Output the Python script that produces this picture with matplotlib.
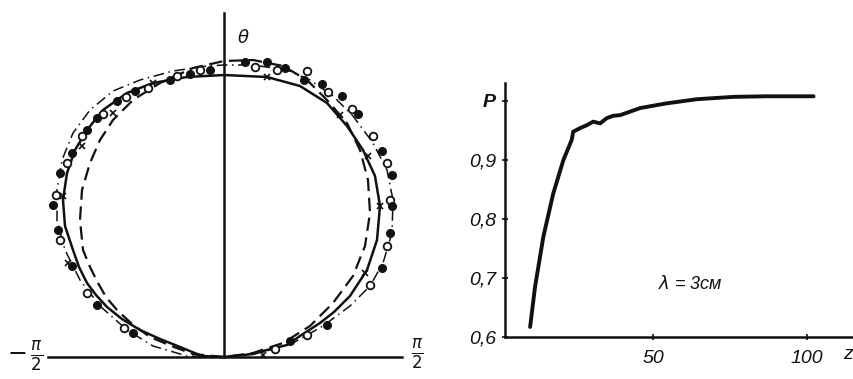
import matplotlib
matplotlib.use("Agg")
import matplotlib.pyplot as plt

# --- 1. Data ---
# Left panel: radiation pattern traces, (x, y) relative to the axes crossing
solid_x = [0, -22, -44, -64, -84, -102, -117, -128, -137, -145, -151, -159, -161, -157, -149,
           -137, -121, -97, -71, -37, 0, 43, 76, 103, 123, 139, 151, 156, 153, 143, 126, 110,
           96, 76, 63, 43, 29, 0]
solid_y = [0, 1, 10, 18, 27, 38, 50, 62, 74, 90, 107, 131, 157, 184, 207,
           227, 247, 264, 274, 280, 282, 280, 271, 254, 231, 207, 181, 151, 117, 87, 61, 45,
           34, 21, 12, 7, 3, 0]

dashed_x = [0, -31, -50, -74, -92, -107, -118, -126, -134, -141, -144, -142, -134, -124, -111,
            -91, -64, -31, 0, 29, 59, 83, 103, 123, 136, 144, 146, 141, 129, 109, 86, 59, 29, 0]
dashed_y = [0, 3, 10, 20, 33, 47, 60, 74, 90, 107, 137, 167, 194, 217, 237,
            257, 274, 289, 296, 297, 291, 277, 257, 234, 207, 177, 144, 111, 81, 54, 31, 14, 4, 0]

dashdot_x = [0, -37, -71, -97, -124, -144, -159, -167, -167, -162, -151, -134, -111, -84, -51, -17,
             0, 29, 63, 86, 109, 129, 149, 163, 169, 168, 159, 146, 126, 99, 69, 36, 0]
dashdot_y = [0, 1, 11, 27, 51, 77, 107, 137, 167, 197, 224, 247, 266, 277, 286, 291,
             292, 292, 287, 277, 261, 241, 214, 187, 157, 124, 94, 71, 51, 31, 14, 4, 0]

open_x = [-24, -47, -76, -98, -121, -142, -157, -168, -164, -137, -100,
          31, 53, 83, 104, 128, 149, 163, 166, 163, 146, 83, 51]
open_y = [287, 281, 269, 260, 243, 221, 194, 162, 117, 64, 29,
          290, 287, 286, 265, 248, 221, 194, 157, 111, 72, 22, 8]

filled_x = [-14, -34, -54, -89, -107, -127, -137, -152, -164, -171, -166, -152, -127, -91,
            21, 43, 61, 80, 98, 118, 134, 158, 168, 168, 166, 158, 103, 66]
filled_y = [287, 283, 277, 266, 256, 239, 227, 204, 184, 152, 127, 91, 52, 24,
            295, 295, 289, 277, 273, 261, 243, 206, 182, 151, 124, 89, 32, 16]

cross_x = [-71, -111, -142, -161, -156, 43, 116, 144, 156, 141, 39]
cross_y = [274, 244, 211, 161, 94, 280, 242, 201, 151, 84, 2]

# Right panel: P versus z
z = [10.1, 11.7, 14.4, 17.6, 20.9, 23.6, 24.1, 26.3, 28.5, 30.6, 32.8, 35.0, 37.1,
     39.3, 41.5, 45.8, 54.4, 64.2, 76.1, 86.9, 102.1]
P = [0.617, 0.685, 0.770, 0.843, 0.900, 0.934, 0.948, 0.954, 0.959, 0.965, 0.962, 0.971, 0.975,
     0.976, 0.980, 0.988, 0.996, 1.003, 1.007, 1.008, 1.008]

y_ticks = [0.6, 0.7, 0.8, 0.9, 1.0]
y_labels = ["0,6", "0,7", "0,8", "0,9", "P"]
x_ticks = [50, 100]
x_labels = ["50", "100"]

# --- 2. Figure ---
plt.rcParams["font.family"] = ["Liberation Sans", "DejaVu Sans"]
plt.rcParams["mathtext.fontset"] = "dejavusans"
W, H = 854, 379
fig = plt.figure(figsize=(W / 100, H / 100), dpi=100)
ink = "#111111"

# --- 3. Left panel ---
ax1 = fig.add_axes([0, 0, 430 / W, 1])
ax1.set_xlim(-224, 206)
ax1.set_ylim(-22, 357)
ax1.axis("off")

ax1.plot([-176, 178], [0, 0], color=ink, lw=1.8)
ax1.plot([0, 0], [0, 344], color=ink, lw=1.8)

ax1.plot(solid_x, solid_y, color=ink, lw=1.8, solid_joinstyle="round")
ax1.plot(dashed_x, dashed_y, color=ink, lw=1.6, linestyle=(0, (6, 3)))
ax1.plot(dashdot_x, dashdot_y, color=ink, lw=1.1, linestyle=(0, (7, 3, 1, 3)))
ax1.plot(open_x, open_y, "o", ms=5.5, mfc="white", mec=ink, mew=1.3, linestyle="none")
ax1.plot(filled_x, filled_y, "o", ms=5.5, mfc=ink, mec=ink, linestyle="none")
ax1.plot(cross_x, cross_y, "x", ms=4, mec=ink, mew=1.2, linestyle="none")

ax1.text(19, 319, r"$\theta$", fontsize=13, color=ink, ha="center", va="center")
ax1.text(-199, 0, r"$-\,\frac{\pi}{2}$", fontsize=17, color=ink, ha="center", va="center")
ax1.text(193, 2, r"$\frac{\pi}{2}$", fontsize=17, color=ink, ha="center", va="center")

# --- 4. Right panel ---
x0, x1 = 505, 853
y0, y1 = 83, 337
ax2 = fig.add_axes([x0 / W, (H - y1) / H, (x1 - x0) / W, (y1 - y0) / H])
ax2.set_xlim(1.95, 114.9)
ax2.set_ylim(0.6, 1.0305)
ax2.patch.set_alpha(0)
for side in ["top", "right"]:
    ax2.spines[side].set_visible(False)
for side in ["left", "bottom"]:
    ax2.spines[side].set_linewidth(1.8)
    ax2.spines[side].set_color(ink)

ax2.plot(z, P, color=ink, lw=2.8, solid_capstyle="round", solid_joinstyle="round")

ax2.set_yticks(y_ticks)
ax2.set_yticklabels(y_labels, fontsize=14, style="italic", color=ink)
ax2.set_xticks(x_ticks)
ax2.set_xticklabels(x_labels, fontsize=14, style="italic", color=ink)
ax2.tick_params(axis="both", direction="inout", length=5, width=1.2, color=ink)
ax2.tick_params(axis="y", pad=4)
ax2.tick_params(axis="x", pad=7)
ax2.yaxis.get_ticklabels()[-1].set_fontweight("bold")

ax2.text(0.985, -0.07, "z", transform=ax2.transAxes, fontsize=14, style="italic",
         color=ink, ha="center", va="center")
ax2.text(62, 0.69, r"$\lambda$ = 3см", fontsize=13, style="italic", color=ink,
         ha="center", va="center")

fig.savefig("out.png", dpi=100, facecolor="white")
